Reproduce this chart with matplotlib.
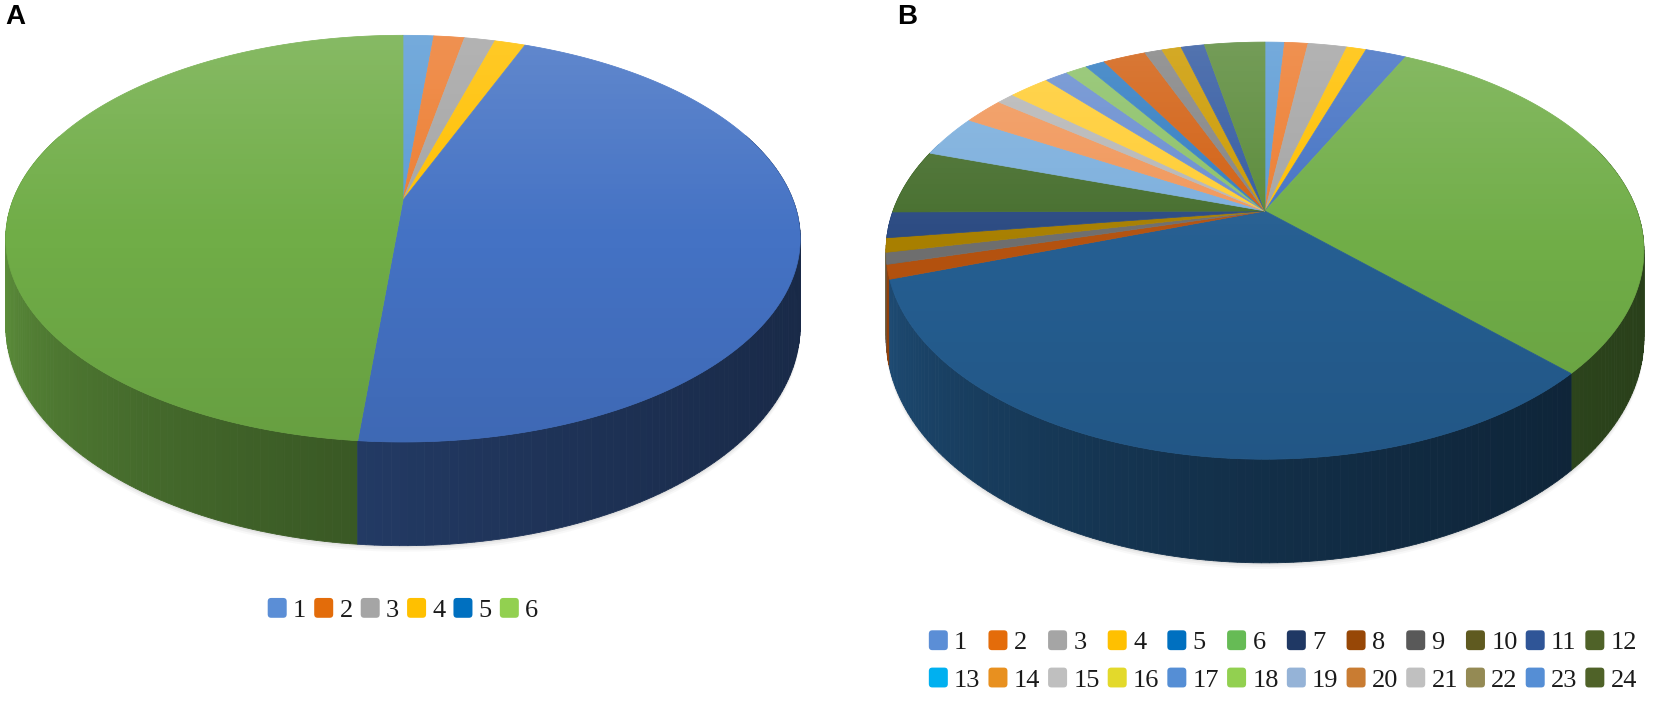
import numpy as np
import matplotlib
matplotlib.use("Agg")
import matplotlib.pyplot as plt
from matplotlib.patches import Polygon, Patch, FancyBboxPatch
from matplotlib.legend_handler import HandlerPatch
from matplotlib.colors import to_rgb

# ---- panel A data ----
labels_a = ["1", "2", "3", "4", "5", "6"]
values_a = [1.5, 1.5, 1.5, 1.5, 45.5, 48.5]
slice_colors_a = ["#5B9BD5", "#ED7D31", "#A5A5A5", "#FFC000", "#4472C4", "#70AD47"]
legend_colors_a = ["#5B8ED6", "#E36C0A", "#A5A5A5", "#FFC000", "#0070C0", "#92D050"]

# ---- panel B data ----
labels_b = [str(i) for i in range(1, 25)]
values_b = [1.0, 1.2, 2.0, 1.0, 2.1, 30.1, 32.5, 1.1, 0.9, 1.1, 2.0, 5.0,
            3.3, 2.1, 0.9, 2.1, 1.2, 1.1, 1.0, 2.2, 0.9, 1.0, 1.2, 3.1]
slice_colors_b = ["#5B9BD5", "#ED7D31", "#A5A5A5", "#FFC000", "#4472C4", "#70AD47",
                  "#255E91", "#B4520F", "#6E6E6E", "#A87F00", "#2A4A82", "#466E2D",
                  "#7CAFDD", "#F1975A", "#B7B7B7", "#FFCD33", "#698ED0", "#8CC168",
                  "#327DC2", "#D26012", "#848484", "#CC9A00", "#335AA1", "#5A8A39"]
legend_colors_b = ["#5B8ED6", "#E46C0A", "#A5A5A5", "#FFC000", "#0070C0", "#66BB55",
                   "#1F3864", "#974706", "#595959", "#5F5A20", "#2F5597", "#4F6228",
                   "#00B0F0", "#E8901F", "#BFBFBF", "#E3D92B", "#558ED5", "#92D050",
                   "#95B3D7", "#C97C32", "#C0C0C0", "#948A54", "#558ED5", "#4F6228"]

# pie geometry in pixels: centre x, centre y, radius x, radius y, perspective, thickness
geo_a = (403, 200, 390, 196, 0.19, 84)
geo_b = (1265, 211, 372, 201, 0.19, 84)

fig = plt.figure(figsize=(16.54, 7.05), dpi=100)
ax = fig.add_axes([0, 0, 1, 1])


def project(theta, z, geo):
    cx, cy, a, b, k, h = geo
    u, v = np.sin(theta), np.cos(theta)
    d = 1 + k * v
    return cx + a * u / d, cy + (-b * v + h * z) / d


def shade(deg):
    s = np.clip((deg - 90) / 180.0, 0, 1)
    return 0.36 + 0.54 * s ** 2


def draw_pie(values, colors, geo):
    vals = np.asarray(values, float)
    edges = np.concatenate([[0], np.cumsum(vals) / vals.sum()]) * 2 * np.pi

    # faint shadow under the disc
    t = np.linspace(np.pi / 2, 3 * np.pi / 2, 200)
    for off, al in [(6, 0.04), (4, 0.06), (2, 0.08)]:
        xs, ys = project(t, 1, geo)
        ax.fill(np.r_[xs, xs[::-1]], np.r_[ys + off, ys[::-1] - 4], color="#555555",
                alpha=al, lw=0, zorder=0)

    # side wall, far pieces first
    quads = []
    for i, c in enumerate(colors):
        n = max(2, int(np.degrees(edges[i + 1] - edges[i])) + 2)
        t = np.linspace(edges[i], edges[i + 1], n)
        for t0, t1 in zip(t[:-1], t[1:]):
            tm = 0.5 * (t0 + t1)
            if np.cos(tm) < 0.35:
                quads.append((np.cos(tm), t0, t1, c))
    quads.sort(key=lambda q: -q[0])
    for _, t0, t1, c in quads:
        f = shade(np.degrees(0.5 * (t0 + t1)) % 360)
        col = np.clip(np.array(to_rgb(c)) * f, 0, 1)
        x0, y0 = project(t0, 0, geo)
        x1, y1 = project(t1, 0, geo)
        x2, y2 = project(t1, 1, geo)
        x3, y3 = project(t0, 1, geo)
        ax.add_patch(Polygon([(x0, y0), (x1, y1), (x2, y2), (x3, y3)], closed=True,
                             fc=col, ec=col, lw=0.6, zorder=1))

    # top face
    cx, cy = geo[0], geo[1]
    for i, c in enumerate(colors):
        n = max(3, int(np.degrees(edges[i + 1] - edges[i]) * 2) + 2)
        t = np.linspace(edges[i], edges[i + 1], n)
        xs, ys = project(t, 0, geo)
        pts = [(cx, cy)] + list(zip(xs, ys))
        ax.add_patch(Polygon(pts, closed=True, fc=c, ec=c, lw=0.5, zorder=2))

    # soft light from the back of the disc
    t = np.linspace(0, 2 * np.pi, 400)
    xs, ys = project(t, 0, geo)
    clip = Polygon(np.column_stack([xs, ys]), closed=True, fc="none", ec="none")
    ax.add_patch(clip)
    g = np.linspace(1, 0, 256)
    rgba = np.zeros((256, 1, 4))
    rgba[:, 0, :3] = np.where(g[:, None] > 0.5, 1.0, 0.0)
    rgba[:, 0, 3] = np.where(g > 0.5, 0.16 * (g - 0.5) * 2, 0.08 * (0.5 - g) * 2)
    im = ax.imshow(rgba, extent=(xs.min(), xs.max(), ys.max(), ys.min()),
                   aspect="auto", zorder=3, interpolation="bilinear")
    im.set_clip_path(clip)


def rounded_square(legend, orig_handle, xdescent, ydescent, width, height, fontsize):
    return FancyBboxPatch((-xdescent, -ydescent), width, height,
                          boxstyle="round,pad=0,rounding_size=2.5")


def add_legend(labels, colors, ncol, center):
    handles = [Patch(facecolor=c, edgecolor="none", label=l) for l, c in zip(labels, colors)]
    nrow = len(handles) // ncol
    if nrow > 1:
        order = [r * ncol + c for c in range(ncol) for r in range(nrow)]
        handles = [handles[i] for i in order]
    fig.legend(handles=handles, ncol=ncol, loc="center", bbox_to_anchor=center,
               bbox_transform=ax.transData, frameon=False,
               prop={"family": "Liberation Serif", "size": 19},
               labelcolor="#1a1a1a",
               handler_map={Patch: HandlerPatch(patch_func=rounded_square)},
               handlelength=0.72, handleheight=0.78, handletextpad=0.24,
               columnspacing=0.3, labelspacing=0.5, borderpad=0, borderaxespad=0)


draw_pie(values_a, slice_colors_a, geo_a)
draw_pie(values_b, slice_colors_b, geo_b)

add_legend(labels_a, legend_colors_a, 6, (403, 610))
add_legend(labels_b, legend_colors_b, 12, (1283, 661))

ax.text(5, 4, "A", fontsize=20, fontweight="bold", family="Liberation Sans", va="top", ha="left")
ax.text(897, 4, "B", fontsize=20, fontweight="bold", family="Liberation Sans", va="top", ha="left")

ax.set_xlim(0, 1654)
ax.set_ylim(705, 0)
ax.axis("off")

fig.savefig("out.png", dpi=100)
